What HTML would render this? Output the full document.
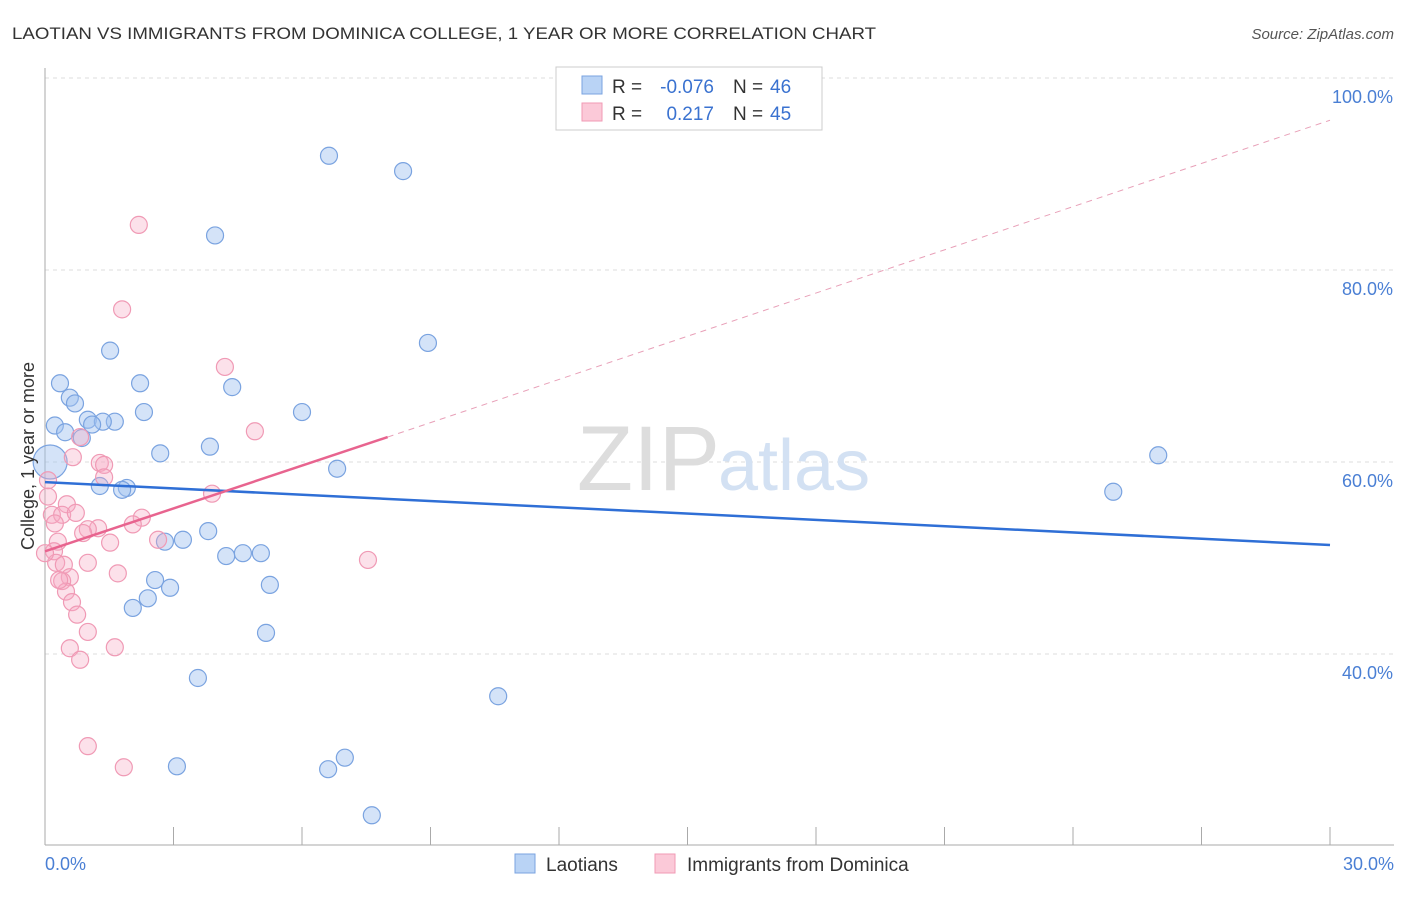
<!DOCTYPE html>
<html><head><meta charset="utf-8"><style>
body{margin:0;background:#fff;font-family:"Liberation Sans",sans-serif;}
svg text{font-family:"Liberation Sans",sans-serif;}
</style></head><body>
<svg id="chart" width="1406" height="892">
<text x="12" y="39" font-size="17" fill="#333" textLength="864" lengthAdjust="spacingAndGlyphs">LAOTIAN VS IMMIGRANTS FROM DOMINICA COLLEGE, 1 YEAR OR MORE CORRELATION CHART</text>
<text x="1394" y="39" font-size="15" fill="#555" font-style="italic" text-anchor="end">Source: ZipAtlas.com</text>
<g id="grid"></g>
<text x="720" y="490" font-size="92" fill="#ddd" text-anchor="end" font-family="Liberation Serif">ZIP</text>
<text x="718" y="490" font-size="72" fill="#d3e1f3">atlas</text>
<g id="pts"></g>
<g id="lines"></g>
<text transform="translate(34,456) rotate(-90)" font-size="18" fill="#333" text-anchor="middle">College, 1 year or more</text>
<text x="45" y="870" font-size="18" fill="#4a7fd4">0.0%</text>
<text x="1394" y="870" font-size="18" fill="#4a7fd4" text-anchor="end">30.0%</text>
<g>
<rect x="556" y="67" width="266" height="63" fill="#fff" stroke="#ccc"/>
<rect x="582" y="76" width="20" height="18" fill="#b9d3f5" stroke="#7aa3e0"/>
<rect x="582" y="103" width="20" height="18" fill="#fbc9d8" stroke="#f09ab5"/>
<text x="612" y="93" font-size="19" fill="#333">R =</text>
<text x="714" y="93" font-size="19" fill="#3a72d0" text-anchor="end">-0.076</text>
<text x="733" y="93" font-size="19" fill="#333">N =</text>
<text x="770" y="93" font-size="19" fill="#3a72d0">46</text>
<text x="612" y="120" font-size="19" fill="#333">R =</text>
<text x="714" y="120" font-size="19" fill="#3a72d0" text-anchor="end">0.217</text>
<text x="733" y="120" font-size="19" fill="#333">N =</text>
<text x="770" y="120" font-size="19" fill="#3a72d0">45</text>
</g>
<g>
<rect x="515" y="854" width="20" height="19" fill="#b9d3f5" stroke="#7aa3e0"/>
<text x="546" y="871" font-size="19" fill="#333">Laotians</text>
<rect x="655" y="854" width="20" height="19" fill="#fbc9d8" stroke="#f09ab5"/>
<text x="687" y="871" font-size="19" fill="#333">Immigrants from Dominica</text>
</g>
</svg>
<script>
const yTicks=[40,60,80,100];
const xTicks=[0,3,6,9,12,15,18,21,24,27,30];
const blueX=[6.63,8.36,3.97,8.94,1.52,0.35,2.22,4.37,0.58,0.70,2.31,6.0,1.0,1.63,1.35,1.1,0.23,0.47,0.86,3.85,2.69,6.82,0.12,1.28,1.91,1.80,3.81,3.22,2.80,4.23,4.62,5.04,2.57,5.25,2.92,2.40,2.05,5.16,3.57,10.58,3.08,6.61,7.0,7.63,25.99,24.94];
const blueY=[91.9,90.3,83.6,72.4,71.6,68.2,68.2,67.8,66.7,66.1,65.2,65.2,64.4,64.2,64.2,63.9,63.8,63.1,62.5,61.6,60.9,59.3,60.0,57.5,57.3,57.1,52.8,51.9,51.7,50.2,50.5,50.5,47.7,47.2,46.9,45.8,44.8,42.2,37.5,35.6,28.3,28.0,29.2,23.2,60.7,56.9];
const pinkX=[2.19,1.80,4.20,4.90,0.82,0.65,1.28,1.38,1.38,3.90,0.07,0.07,0.51,0.16,0.40,2.26,0.72,0.23,2.05,1.24,1.0,0.89,2.64,1.52,0.30,0.21,7.54,0.26,0.44,1.0,1.70,0.58,0.40,0.49,0.63,0.75,1.0,0.58,0.82,1.63,1.0,1.84,0.33,0];
const pinkY=[84.7,75.9,69.9,63.2,62.6,60.5,59.9,59.7,58.4,56.7,58.1,56.4,55.6,54.5,54.5,54.2,54.7,53.6,53.5,53.1,53.0,52.6,51.9,51.6,51.7,50.7,49.8,49.5,49.3,49.5,48.4,48.0,47.6,46.5,45.4,44.1,42.3,40.6,39.4,40.7,30.4,28.2,47.7,50.5];
const blueTrend=[57.9,51.35];
const pinkTrend=[50.7,62.6,95.6];
const X=v=>45+v/30*1285, Y=v=>78+(100-v)*9.6;
const NS="http://www.w3.org/2000/svg";
function mk(t,a,p){const e=document.createElementNS(NS,t);for(const k in a)e.setAttribute(k,a[k]);p.appendChild(e);return e;}
const g=document.getElementById('grid');
yTicks.forEach(v=>{
 const l=mk('line',{x1:45,x2:1394,y1:Y(v),y2:Y(v),stroke:'#ddd','stroke-dasharray':'4,4'},g);
 
 
 const t=mk('text',{x:1393,y:Y(v)+25,'font-size':18,fill:'#4a7fd4','text-anchor':'end'},g);t.textContent=v.toFixed(1)+'%';
 
 
});
mk('line',{x1:45,x2:45,y1:68,y2:845,stroke:'#aaa'},g);
mk('line',{x1:45,x2:1394,y1:845,y2:845,stroke:'#aaa'},g);
xTicks.forEach(v=>{const l=mk('line',{x1:X(v),x2:X(v),y1:827,y2:845,stroke:'#aaa'},g);
 
 });
const p=document.getElementById('pts');
blueX.forEach((x,i)=>{const c=mk('circle',{cx:X(x),cy:Y(blueY[i]),r:(i==22?17:8.5),fill:'rgba(160,194,240,0.45)',stroke:'#7aa3e0','stroke-width':1.2},p);
 
 });
pinkX.forEach((x,i)=>{const c=mk('circle',{cx:X(x),cy:Y(pinkY[i]),r:8.5,fill:'rgba(245,170,195,0.35)',stroke:'#f09ab5','stroke-width':1.2},p);
 
 });
const L=document.getElementById('lines');
const b=mk('line',{x1:X(0),y1:Y(blueTrend[0]),x2:X(30),y2:Y(blueTrend[1]),stroke:'#2f6fd6','stroke-width':2.5},L);


const pk=mk('line',{x1:X(0),y1:Y(pinkTrend[0]),x2:X(8),y2:Y(pinkTrend[1]),stroke:'#e8648f','stroke-width':2.5},L);


const pd=mk('line',{x1:X(8),y1:Y(pinkTrend[1]),x2:X(30),y2:Y(pinkTrend[2]),stroke:'#e8a0b8','stroke-width':1,'stroke-dasharray':'6,5'},L);


</script>
</body></html>
